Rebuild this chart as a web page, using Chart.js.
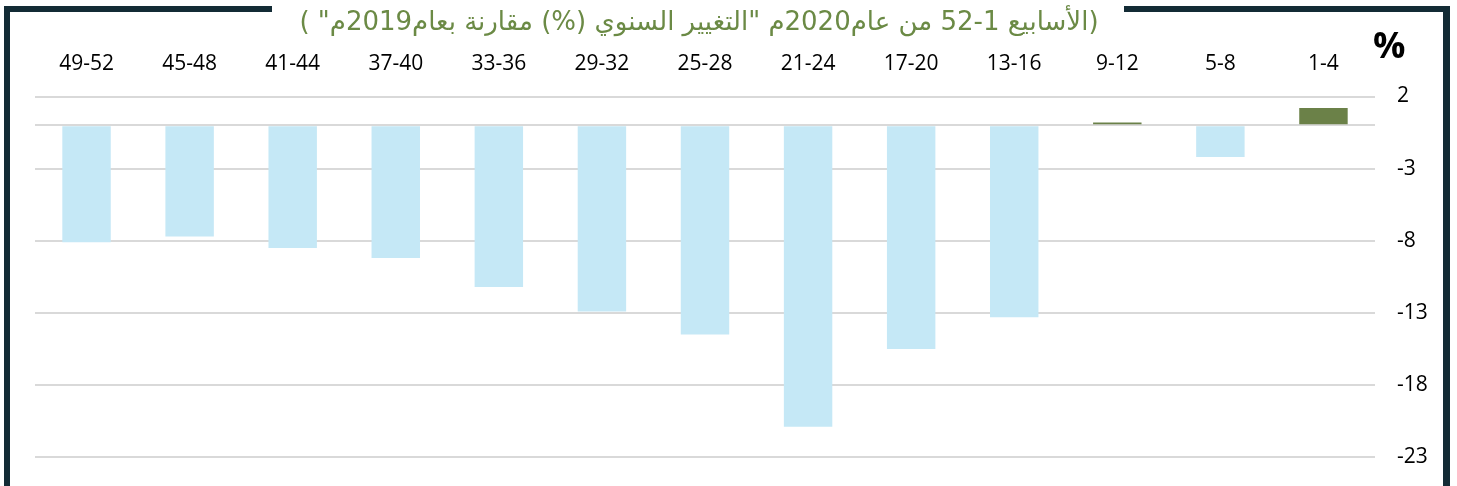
<!DOCTYPE html>
<html>
<head>
<meta charset="utf-8">
<script src="https://cdn.jsdelivr.net/npm/chart.js"></script>
<style>
  html, body { margin: 0; padding: 0; background: #fff; }
  #wrap { position: relative; width: 1457px; height: 486px; }
</style>
</head>
<body>
<div id="wrap"><canvas id="weeklyBar" width="1457" height="486"></canvas></div>
<script>
const weeks = ['1-4', '5-8', '9-12', '13-16', '17-20', '21-24', '25-28', '29-32', '33-36', '37-40', '41-44', '45-48', '49-52'];
const changes = [1.2, -2.2, 0.2, -13.3, -15.5, -20.9, -14.5, -12.9, -11.2, -9.2, -8.5, -7.7, -8.1];
const yTicks = [-23, -18, -13, -8, -3, 0, 2];
const chartTitle = '(الأسابيع 1-52 من عام2020م "التغيير السنوي (%) مقارنة بعام2019م" )';

const frameColor = '#132b35';

// frame, title and % sign drawn over the chart
const framePlugin = {
  id: 'frame',
  afterDraw(chart) {
    const ctx = chart.ctx;
    ctx.save();
    ctx.fillStyle = frameColor;
    ctx.fillRect(4, 6, 268, 6);
    ctx.fillRect(1124, 6, 326, 6);
    ctx.fillRect(4, 6, 6, 480);
    ctx.fillRect(1443, 6, 7, 480);

    ctx.fillStyle = '#6b8a45';
    ctx.font = '26px "DejaVu Sans"';
    ctx.direction = 'rtl';
    ctx.textAlign = 'center';
    ctx.textBaseline = 'alphabetic';
    ctx.fillText(chartTitle, 699, 30);

    ctx.direction = 'ltr';
    ctx.textAlign = 'left';
    ctx.fillStyle = '#000';
    ctx.font = 'bold 36px "Open Sans"';
    ctx.fillText('%', 1373, 58);
    ctx.restore();
  }
};

const barCtx = document.getElementById('weeklyBar').getContext('2d');
new Chart(barCtx, {
  type: 'bar',
  data: {
    labels: weeks,
    datasets: [{
      data: changes,
      backgroundColor: changes.map(v => v >= 0 ? '#6b8148' : '#c5e8f6'),
      barPercentage: 0.47,
      categoryPercentage: 1
    }]
  },
  options: {
    responsive: false,
    animation: false,
    layout: { padding: { left: 35, right: 0, top: 0, bottom: 0 } },
    plugins: {
      legend: { display: false },
      tooltip: { enabled: false }
    },
    scales: {
      x: {
        position: 'top',
        reverse: true,
        grid: { display: false, drawTicks: false },
        border: { display: false },
        ticks: {
          color: '#000',
          font: { family: 'Open Sans', size: 21 },
          padding: 20,
          maxRotation: 0,
          autoSkip: false
        },
        afterFit(scale) { scale.height = 96.5; }
      },
      y: {
        position: 'right',
        min: -25,
        max: 2,
        grid: { color: '#d9d9d9', lineWidth: 2, drawTicks: false },
        border: { display: false },
        afterBuildTicks(scale) { scale.ticks = yTicks.map(v => ({ value: v })); },
        ticks: {
          color: '#000',
          font: { family: 'Open Sans', size: 21 },
          padding: 22,
          callback: v => v === 0 ? '' : v
        },
        afterFit(scale) {
          scale.width = 82;
          scale.paddingTop = 0;
          scale.paddingBottom = 0;
        }
      }
    }
  },
  plugins: [framePlugin]
});
</script>
</body>
</html>
